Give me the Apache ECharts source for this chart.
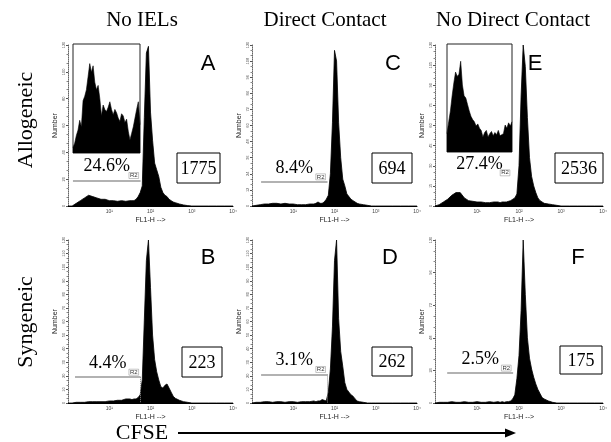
<!DOCTYPE html>
<html>
<head>
<meta charset="utf-8">
<style>
  html, body { margin: 0; padding: 0; background: #fff; }
  #main { width: 611px; height: 442px; }
</style>
</head>
<body>
<div id="main"></div>
<script src="https://cdn.jsdelivr.net/npm/echarts@6/dist/echarts.min.js"></script>
<script type="text/javascript">
  // FL1-H position in decades (0 = 10^0 ... 4 = 10^4), finer around the peak
  var logGrid = [0, 0.1, 0.2, 0.3, 0.4, 0.5, 0.6, 0.7, 0.8, 0.9, 1.0, 1.1, 1.2, 1.3, 1.4, 1.5,
    1.55, 1.6, 1.65, 1.7, 1.75, 1.8, 1.85, 1.9, 1.95, 2.0, 2.05, 2.1, 2.15, 2.2, 2.25, 2.3, 2.35, 2.4, 2.45, 2.5, 2.55, 2.6,
    2.7, 2.8, 2.9, 3.0, 3.2, 3.4, 3.6, 3.8, 4.0];

  // counts
  var countsA = [0, 0, 2, 4, 6, 8, 7, 6, 5, 5, 4, 4, 3.5, 4, 3.5, 4,
    4, 4, 5, 7, 10, 15, 66, 114, 119, 70, 49, 32, 27, 22, 14, 10, 8, 7, 5, 4, 3, 2.5,
    1.5, 0.8, 0.3, 0, 0, 0, 0, 0, 0];
  var countsC = [0, 0.5, 1, 1.5, 1.5, 2, 2, 1.5, 2, 1.5, 1.5, 1, 1, 1, 1.5, 1.5,
    2, 3, 2, 2, 3, 5, 8, 24, 62, 116, 108, 62, 36, 20, 15, 9, 7, 5, 4, 3, 2, 1.5,
    1, 0.5, 0, 0, 0, 0, 0, 0, 0];
  var countsE = [0, 1, 3, 5, 8, 10, 10, 6, 4, 3.5, 3, 3, 2.5, 2.5, 3, 3,
    2.5, 3, 3, 3, 3.5, 4, 5, 6, 9, 30, 82, 120, 104, 66, 36, 22, 15, 10, 6, 4, 3, 2,
    1.5, 1, 0.5, 0, 0, 0, 0, 0, 0];
  var countsB = [0, 0, 0.5, 0.5, 0.5, 1, 1, 1, 1, 1, 1.5, 1.5, 2, 2, 3, 3,
    2.5, 3, 3, 4, 6, 17, 61, 105, 120, 85, 50, 32, 23, 17, 12, 11, 13, 14, 11, 8, 5, 3.5,
    2, 1, 0.5, 0, 0, 0, 0, 0, 0];
  var countsD = [0, 0.5, 0.5, 1, 1, 0.5, 1, 1, 0.5, 1, 1, 0.5, 1, 1, 1, 1.5,
    1, 1.5, 1.5, 2.5, 2, 1.5, 8, 25, 56, 105, 120, 62, 38, 27, 15, 10, 8, 6, 5, 3, 1.5, 1,
    0.5, 0, 0, 0, 0, 0, 0, 0, 0];
  var countsF = [0, 0.5, 0.5, 0.5, 1, 0.5, 0.5, 1, 0.5, 0.5, 1, 0.5, 0.5, 1, 0.5, 1,
    0.5, 1, 0.5, 1, 1, 1.5, 3, 6, 18, 35, 68, 120, 80, 48, 33, 25, 19, 14, 10, 7, 4, 3,
    1.5, 0.5, 0, 0, 0, 0, 0, 0, 0];

  // enlarged views of the divided cells (% of inset height)
  var insetA = [5, 9, 16, 21, 30, 24, 48, 52, 58, 70, 82, 74, 80, 65, 58, 62, 50, 34, 44, 40,
    38, 42, 47, 40, 35, 40, 37, 32, 29, 36, 34, 28, 31, 20, 12, 18, 24, 32, 40, 47, 26];
  var insetE = [17, 28, 38, 52, 64, 74, 70, 72, 84, 62, 52, 50, 44, 38, 33, 30, 28, 24, 26, 22,
    20, 14, 18, 20, 14, 17, 19, 15, 18, 16, 20, 15, 14, 17, 25, 22, 27, 24, 28];

  var pctLabels = ['24.6%', '8.4%', '27.4%', '4.4%', '3.1%', '2.5%'];
  var boxValues = ['1775', '694', '2536', '223', '262', '175'];
  var panelLetters = ['A', 'C', 'E', 'B', 'D', 'F'];
  // R2 gate: [from decade, to decade, height in counts]
  var gates = [[0.12, 1.76, 19], [0.22, 1.83, 18], [0.29, 1.83, 21], [0.17, 1.76, 19], [0.22, 1.83, 21], [0.29, 1.86, 22]];
  var xTickLabels = ['', '10¹', '10²', '10³', '10⁴'];
  var yIntervals = [20, 12, 15, 10, 10, 24];
  var colTitles = ['No IELs', 'Direct Contact', 'No Direct Contact'];
  var rowTitles = ['Allogeneic', 'Syngeneic'];

  var allCounts = [countsA, countsC, countsE, countsB, countsD, countsF];

  var serif = 'Liberation Serif, Times New Roman, serif';
  var sans = 'Liberation Sans, Arial, sans-serif';
  var clear = 'rgba(0,0,0,0)';

  var panelBox = [
    {left: 68, top: 45, width: 165, height: 161},
    {left: 252, top: 45, width: 165, height: 161},
    {left: 435, top: 45, width: 168, height: 161},
    {left: 68, top: 240, width: 165, height: 163},
    {left: 252, top: 240, width: 165, height: 163},
    {left: 435, top: 240, width: 168, height: 163}
  ];
  var numBox = [
    [177, 153, 43, 30], [372, 153, 40, 30], [555, 153, 48, 30],
    [182, 347, 40, 30], [372, 347, 40, 29], [560, 346, 42, 28]
  ];
  var letterPos = [[208, 64], [393, 64], [535, 64], [208, 258], [390, 258], [578, 258]];

  var grid = [], xAxis = [], yAxis = [], series = [], graphic = [];

  panelBox.forEach(function (b, i) {
    grid.push(b);
    xAxis.push({
      type: 'value', gridIndex: i, min: 0, max: 4, interval: 1,
      name: 'FL1-H -->', nameLocation: 'middle', nameGap: 11,
      nameTextStyle: {fontSize: 7, fontFamily: sans, color: '#222'},
      axisLine: {lineStyle: {color: '#000', width: 1}},
      axisTick: {show: false},
      splitLine: {show: false},
      axisLabel: {fontSize: 5, margin: 3, color: '#444', fontFamily: sans,
        formatter: function (v) { return xTickLabels[Math.round(v)] || ''; }}
    });
    yAxis.push({
      type: 'value', gridIndex: i, min: 0, max: 120, interval: yIntervals[i],
      name: 'Number', nameLocation: 'middle', nameGap: 9,
      nameTextStyle: {fontSize: 7, fontFamily: sans, color: '#222'},
      axisLine: {show: true, lineStyle: {color: '#666', width: 1, type: 'dotted'}},
      axisTick: {show: true, length: 2, lineStyle: {color: '#555'}},
      minorTick: {show: true, splitNumber: 3, length: 1.5, lineStyle: {color: '#888'}},
      splitLine: {show: false},
      axisLabel: {fontSize: 4, margin: 2, rotate: 90, color: '#555', fontFamily: sans}
    });

    var g = gates[i];
    var mlData = [
      [{coord: [g[0], g[2]],
        lineStyle: {color: i === 2 ? clear : '#999', width: 1.5, type: 'solid'},
        label: {show: true, position: 'insideMiddleTop', distance: 5, formatter: pctLabels[i],
          fontFamily: serif, fontSize: 18, color: '#000'}},
       {coord: [g[1], g[2]]}],
      [{coord: [g[0], g[2]],
        lineStyle: {color: clear, width: 1, type: 'solid'},
        label: {show: true, position: 'insideEndTop', distance: 2, formatter: 'R2',
          fontFamily: sans, fontSize: 6, color: '#333', borderColor: '#888', borderWidth: 0.5, padding: [0, 1]}},
       {coord: [g[1], g[2]]}]
    ];
    if (i === 3 || i === 4) {
      mlData.push([{coord: [g[1], g[2]], lineStyle: {color: '#888', width: 1, type: 'dotted'}, label: {show: false}},
        {coord: [g[1], 0]}]);
    }

    series.push({
      type: 'line', xAxisIndex: i, yAxisIndex: i,
      data: logGrid.map(function (x, k) { return [x, allCounts[i][k]]; }),
      showSymbol: false, smooth: false,
      lineStyle: {color: '#000', width: 0.8},
      areaStyle: {color: '#000', opacity: 1},
      markLine: {silent: true, symbol: ['none', 'none'], animation: false, data: mlData}
    });

    var nb = numBox[i];
    graphic.push({type: 'rect', shape: {x: nb[0], y: nb[1], width: nb[2], height: nb[3]},
      style: {fill: '#fff', stroke: '#000', lineWidth: 1}, z: 10});
    graphic.push({type: 'text', x: nb[0] + nb[2] / 2, y: nb[1] + nb[3] / 2 + 1, z: 11,
      style: {text: boxValues[i], font: '18px ' + serif, fill: '#000', textAlign: 'center', textVerticalAlign: 'middle'}});
    graphic.push({type: 'text', x: letterPos[i][0], y: letterPos[i][1], z: 11,
      style: {text: panelLetters[i], font: '22px ' + sans, fill: '#000', textAlign: 'center', textVerticalAlign: 'middle'}});
  });

  // insets on A and E
  var insets = [
    {box: {left: 73, top: 44, width: 67, height: 109}, vals: insetA},
    {box: {left: 447, top: 44, width: 65, height: 108}, vals: insetE}
  ];
  insets.forEach(function (ins, j) {
    var idx = 6 + j;
    grid.push(Object.assign({show: true, borderColor: '#222', borderWidth: 1, backgroundColor: '#fff'}, ins.box));
    xAxis.push({type: 'value', gridIndex: idx, min: 0, max: ins.vals.length - 1, show: false});
    yAxis.push({type: 'value', gridIndex: idx, min: 0, max: 100, show: false});
    series.push({
      type: 'line', xAxisIndex: idx, yAxisIndex: idx, z: 5,
      data: ins.vals.map(function (v, k) { return [k, v]; }),
      showSymbol: false, lineStyle: {color: '#000', width: 0.6},
      areaStyle: {color: '#000', opacity: 1}
    });
  });

  // titles
  var colX = [142, 325, 513];
  colTitles.forEach(function (t, i) {
    graphic.push({type: 'text', x: colX[i], y: 20,
      style: {text: t, font: '21px ' + serif, fill: '#000', textAlign: 'center', textVerticalAlign: 'middle'}});
  });
  var rowY = [120, 322];
  rowTitles.forEach(function (t, i) {
    graphic.push({type: 'text', x: 26, y: rowY[i], rotation: Math.PI / 2,
      style: {text: t, font: '22px ' + serif, fill: '#000', textAlign: 'center', textVerticalAlign: 'middle'}});
  });
  graphic.push({type: 'text', x: 142, y: 433,
    style: {text: 'CFSE', font: '22px ' + serif, fill: '#000', textAlign: 'center', textVerticalAlign: 'middle'}});
  graphic.push({type: 'line', shape: {x1: 178, y1: 433, x2: 507, y2: 433}, style: {stroke: '#000', lineWidth: 2}});
  graphic.push({type: 'polygon', shape: {points: [[505, 428.5], [516, 433], [505, 437.5]]}, style: {fill: '#000'}});

  var myChart = echarts.init(document.getElementById('main'));
  var option = {
    backgroundColor: '#fff',
    animation: false,
    grid: grid,
    xAxis: xAxis,
    yAxis: yAxis,
    series: series,
    graphic: graphic
  };
  myChart.setOption(option);
</script>
</body>
</html>
